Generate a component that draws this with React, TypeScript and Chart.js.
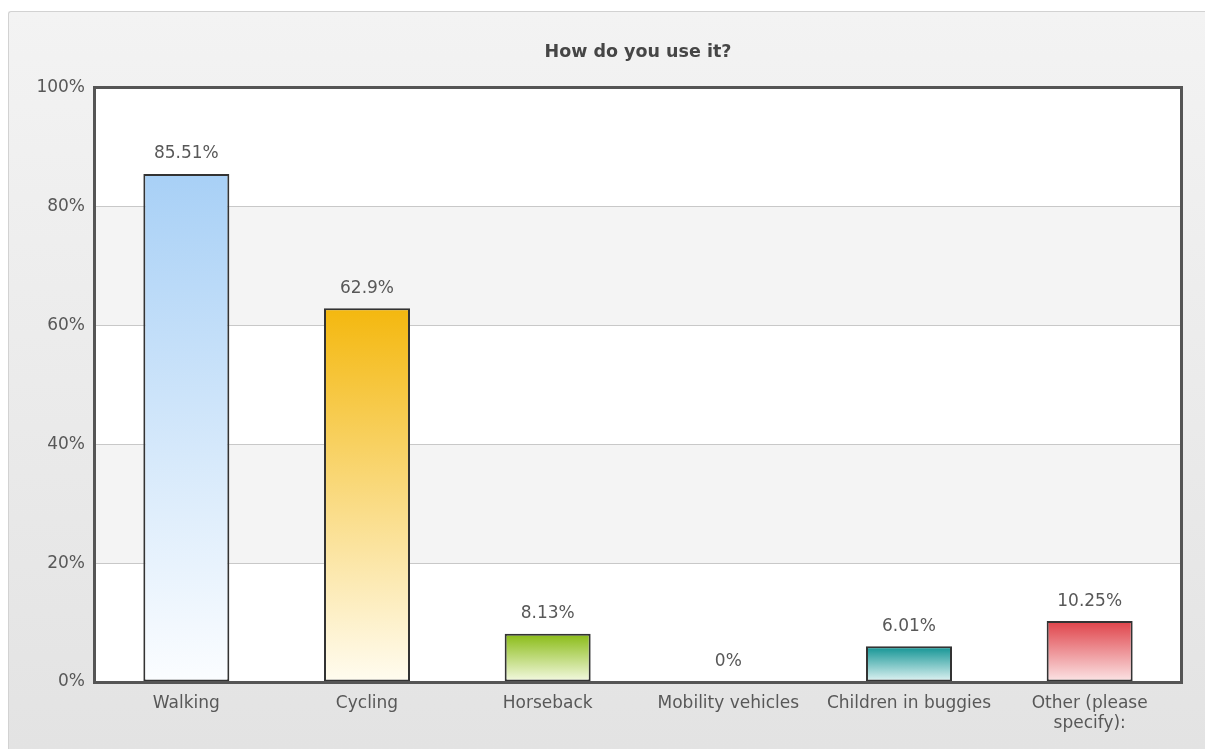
import React, { useEffect, useRef } from "react";
import { Chart, registerables } from "chart.js";

Chart.register(...registerables);

const categories: (string | string[])[] = [
  "Walking",
  "Cycling",
  "Horseback",
  "Mobility vehicles",
  "Children in buggies",
  ["Other (please", "specify):"],
];
const values = [85.51, 62.9, 8.13, 0, 6.01, 10.25];
const valueLabels = ["85.51%", "62.9%", "8.13%", "0%", "6.01%", "10.25%"];
const topColors = ["#a8d0f6", "#f4b80f", "#89bb14", "#cccccc", "#109393", "#df4249"];
const bottomColors = ["#fbfdff", "#fffcf0", "#f5fae4", "#ffffff", "#e4f5f5", "#fce6e7"];
const yTicks = [0, 20, 40, 60, 80, 100];
const title = "How do you use it?";

const FONT = "'DejaVu Sans', Verdana, sans-serif";

const bandsPlugin = {
  id: "bands",
  beforeDraw(chart: any) {
    const { ctx, chartArea, scales } = chart;
    const y = scales.y;
    ctx.save();
    for (let i = 0; i < yTicks.length - 1; i++) {
      const top = y.getPixelForValue(yTicks[i + 1]);
      const bot = y.getPixelForValue(yTicks[i]);
      ctx.fillStyle = i % 2 === 0 ? "#ffffff" : "#f4f4f4";
      ctx.fillRect(chartArea.left, top, chartArea.right - chartArea.left, bot - top);
    }
    ctx.restore();
  },
  afterDraw(chart: any) {
    const { ctx, chartArea } = chart;
    ctx.save();
    ctx.strokeStyle = "#555555";
    ctx.lineWidth = 3;
    ctx.strokeRect(
      chartArea.left - 1.5,
      chartArea.top - 0.5,
      chartArea.right - chartArea.left + 3,
      chartArea.bottom - chartArea.top + 1
    );
    ctx.font = `bold 17.5px ${FONT}`;
    ctx.fillStyle = "#464646";
    ctx.textAlign = "center";
    ctx.textBaseline = "middle";
    ctx.fillText(title, (chartArea.left + chartArea.right) / 2, 40);
    ctx.restore();
  },
};

const labelsPlugin = {
  id: "valueLabels",
  afterDatasetsDraw(chart: any) {
    const { ctx } = chart;
    const meta = chart.getDatasetMeta(0);
    ctx.save();
    ctx.font = `17px ${FONT}`;
    ctx.fillStyle = "#585858";
    ctx.textAlign = "center";
    ctx.textBaseline = "middle";
    meta.data.forEach((bar: any, i: number) => {
      ctx.fillText(valueLabels[i], bar.x, bar.y - 20);
    });
    ctx.restore();
  },
};

export default function App() {
  const ref = useRef<HTMLCanvasElement>(null);
  useEffect(() => {
    if (!ref.current) return;
    const chart = new Chart(ref.current, {
      type: "bar",
      data: {
        labels: categories,
        datasets: [
          {
            data: values,
            backgroundColor: (c: any) => {
              const ch = c.chart;
              const y = ch.scales && ch.scales.y;
              const i = c.dataIndex;
              if (!y || !ch.chartArea || i === undefined) return topColors[i || 0];
              const top = y.getPixelForValue(values[i]);
              const bot = y.getPixelForValue(0);
              if (bot - top < 1) return bottomColors[i];
              const g = ch.ctx.createLinearGradient(0, top, 0, bot);
              g.addColorStop(0, topColors[i]);
              g.addColorStop(1, bottomColors[i]);
              return g;
            },
            borderColor: "#333333",
            borderWidth: 2,
            borderSkipped: false,
            categoryPercentage: 1,
            barPercentage: 0.476,
          },
        ],
      },
      options: {
        animation: false,
        responsive: false,
        maintainAspectRatio: false,
        layout: { padding: { left: 0, right: 25, top: 76, bottom: 0 } },
        plugins: {
          legend: { display: false },
          tooltip: { enabled: false },
          title: { display: false },
        },
        scales: {
          x: {
            grid: { display: false, drawTicks: false },
            border: { display: false },
            ticks: {
              color: "#585858",
              font: { family: FONT, size: 17 },
              padding: 11,
              maxRotation: 0,
              autoSkip: false,
            },
            afterFit: (s: any) => {
              s.height = 67;
            },
          },
          y: {
            min: 0,
            max: 100,
            grid: { color: "#c8c8c8", lineWidth: 1, drawTicks: false },
            border: { display: false },
            ticks: {
              stepSize: 20,
              color: "#585858",
              font: { family: FONT, size: 17 },
              padding: 11,
              callback: (v: any) => `${v}%`,
            },
            afterFit: (s: any) => {
              s.width = 87;
            },
          },
        },
      },
      plugins: [bandsPlugin, labelsPlugin],
    });
    return () => chart.destroy();
  }, []);

  return (
    <div
      style={{
        position: "fixed",
        left: 0,
        top: 0,
        width: 1205,
        height: 749,
        background: "#ffffff",
        overflow: "hidden",
      }}
    >
      <div
        style={{
          position: "absolute",
          left: 8,
          top: 11,
          width: 1196,
          height: 737,
          borderLeft: "1px solid #d2d2d2",
          borderTop: "1px solid #d2d2d2",
          borderTopLeftRadius: 3,
          background: "linear-gradient(#f3f3f3, #e3e3e3)",
        }}
      >
        <canvas ref={ref} width={1196} height={737} style={{ display: "block" }} />
      </div>
    </div>
  );
}
